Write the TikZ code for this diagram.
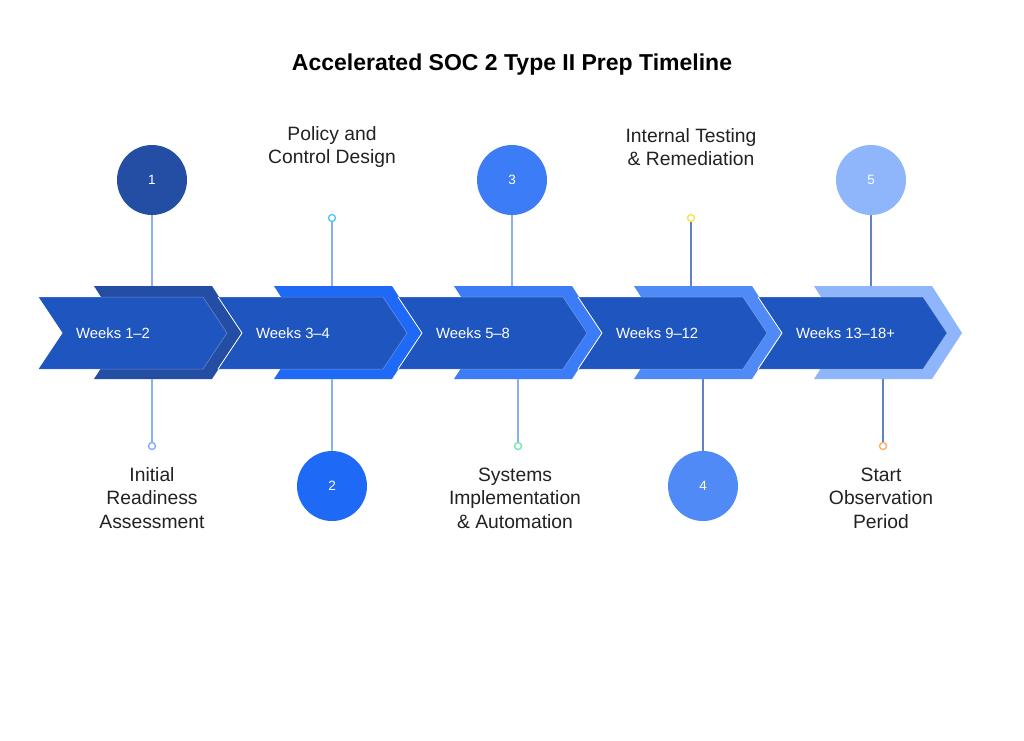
\documentclass[tikz,border=0pt]{standalone}
\usepackage{fontspec}
\setmainfont{Liberation Sans}
\usetikzlibrary{positioning}
\definecolor{stepdark}{HTML}{1F55BE}
\definecolor{stepa}{HTML}{234EA3}
\definecolor{stepb}{HTML}{1F69F7}
\definecolor{stepc}{HTML}{3C7DF7}
\definecolor{stepd}{HTML}{508AF7}
\definecolor{stepe}{HTML}{8FB5FA}
\definecolor{linelight}{HTML}{8AAEF0}
\definecolor{linedark}{HTML}{6282C8}
\definecolor{textgray}{HTML}{222222}
\definecolor{dota}{HTML}{7FA8F8}
\definecolor{dotb}{HTML}{4FC3F7}
\definecolor{dotc}{HTML}{6EE7A8}
\definecolor{dotd}{HTML}{FDE047}
\definecolor{dote}{HTML}{FDAA60}

\begin{document}
\begin{tikzpicture}[
    x=1pt, y=-1pt,
    numcircle/.style={circle, minimum size=70pt, inner sep=0pt, text=white, font=\fontsize{13.5}{15}\selectfont},
    dot/.style={circle, draw, line width=1.3pt, fill=white, minimum size=7pt, inner sep=0pt},
    desc/.style={align=center, text=textgray, font=\fontsize{19.3}{23.5}\selectfont},
    weeks/.style={anchor=west, inner sep=0pt, text=white, font=\fontsize{14.8}{16}\selectfont},
    stem/.style={line width=1.2pt}
]
    \fill[white] (0,0) rectangle (1024,740);
    \useasboundingbox (0,0) rectangle (1024,740);

    % Title
    \node[font=\bfseries\fontsize{23}{27}\selectfont, text=black] (title) at (512,65) {Accelerated SOC 2 Type II Prep Timeline};

    % Chevrons
    \foreach \x/\col in {38/stepa, 218/stepb, 398/stepc, 578/stepd, 758/stepe} {
        \fill[\col] (\x+56,286) -- ++(118,0) -- ++(30,47) -- ++(-30,46) -- ++(-118,0) -- ++(30,-46) -- cycle;
        \filldraw[fill=stepdark, draw=white, draw opacity=0.35, line width=0.5pt] (\x,297) -- ++(165,0) -- ++(24,36) -- ++(-24,36) -- ++(-165,0) -- ++(24,-36) -- cycle;
        \draw[white, line width=0.8pt] (\x,297) -- ++(24,36) -- ++(-24,36);
    }

    % Week labels
    \node[weeks] (w1) at (76,333) {Weeks 1--2};
    \node[weeks] (w2) at (256,333) {Weeks 3--4};
    \node[weeks] (w3) at (436,333) {Weeks 5--8};
    \node[weeks] (w4) at (616,333) {Weeks 9--12};
    \node[weeks] (w5) at (796,333) {Weeks 13--18+};

    % Anchors on the chevrons
    \coordinate (t1) at (152,286);
    \coordinate (b1) at (152,379);
    \coordinate (t2) at (332,286);
    \coordinate (b2) at (332,379);
    \coordinate (t3) at (512,286);
    \coordinate (b3) at (518,379);
    \coordinate (t4) at (691,286);
    \coordinate (b4) at (703,379);
    \coordinate (t5) at (871,286);
    \coordinate (b5) at (883,379);

    % Numbered circles
    \node[numcircle, fill=stepa] (c1) at (152,180) {1};
    \node[numcircle, fill=stepb] (c2) at (332,486) {2};
    \node[numcircle, fill=stepc] (c3) at (512,180) {3};
    \node[numcircle, fill=stepd] (c4) at (703,486) {4};
    \node[numcircle, fill=stepe] (c5) at (871,180) {5};

    % Small dots
    \node[dot, draw=dota] (d1) at (152,446) {};
    \node[dot, draw=dotb] (d2) at (332,218) {};
    \node[dot, draw=dotc] (d3) at (518,446) {};
    \node[dot, draw=dotd] (d4) at (691,218) {};
    \node[dot, draw=dote] (d5) at (883,446) {};

    % Stems
    \draw[stem, linelight] (c1) -- (t1);
    \draw[stem, linelight] (b1) -- (d1);
    \draw[stem, linelight] (d2) -- (t2);
    \draw[stem, linelight] (b2) -- (c2);
    \draw[stem, linelight] (c3) -- (t3);
    \draw[stem, linelight] (b3) -- (d3);
    \draw[stem, linedark] (d4) -- (t4);
    \draw[stem, linedark] (b4) -- (c4);
    \draw[stem, linedark] (c5) -- (t5);
    \draw[stem, linedark] (b5) -- (d5);

    % Descriptions
    \node[desc] (l1) at (152,498) {Initial\\Readiness\\Assessment};
    \node[desc] (l2) at (332,147) {Policy and\\Control Design};
    \node[desc] (l3) at (515,498) {Systems\\Implementation\\\& Automation};
    \node[desc] (l4) at (691,147) {Internal Testing\\\& Remediation};
    \node[desc] (l5) at (881,498) {Start\\Observation\\Period};

\end{tikzpicture}
\end{document}
